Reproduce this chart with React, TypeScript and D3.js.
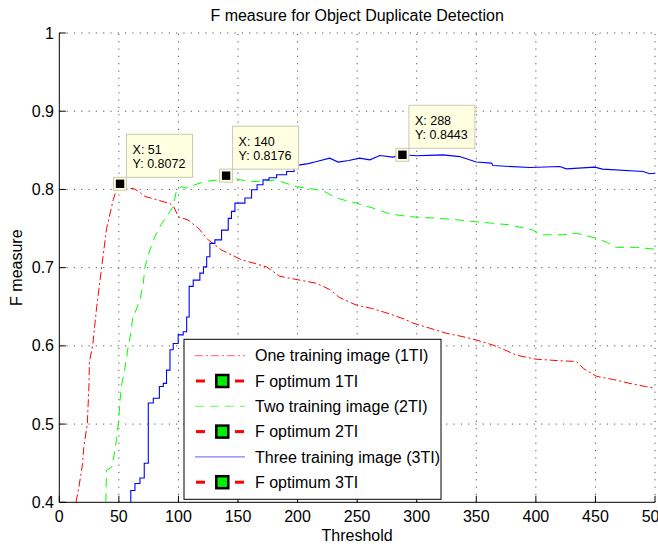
import React from 'react';
import * as d3 from 'd3';

// Threshold / F measure pairs
const oneTI: [number, number][] = [
  [14, 0.4], [16.5, 0.42], [19.6, 0.45], [20.5, 0.47], [23.5, 0.5], [24.9, 0.55], [25.3, 0.58],
  [28, 0.6], [31.4, 0.65], [35.5, 0.7], [39.7, 0.75], [45.3, 0.787], [48, 0.8], [51, 0.8072],
  [55, 0.8], [62, 0.8016], [67, 0.797], [72, 0.791], [80, 0.7876], [88, 0.784], [93, 0.782],
  [96, 0.778], [100, 0.765], [108, 0.761], [117, 0.75], [125, 0.7355], [136, 0.7227], [145, 0.716],
  [153, 0.71], [165, 0.705], [174, 0.701], [185, 0.689], [202, 0.684], [216, 0.68], [227, 0.672],
  [235, 0.662], [249.5, 0.652], [262, 0.648], [275, 0.642], [290, 0.634], [297, 0.629],
  [311, 0.6226], [325, 0.616], [338, 0.612], [350, 0.6076], [364, 0.601], [375, 0.594],
  [384, 0.588], [400, 0.583], [420, 0.581], [434, 0.58], [440, 0.571], [451, 0.561],
  [465, 0.557], [479, 0.552], [492, 0.548], [500, 0.5458],
];

const twoTI: [number, number][] = [
  [39, 0.4], [39.7, 0.441], [44, 0.445], [45.9, 0.46], [48, 0.48], [49.5, 0.5], [51, 0.53],
  [52.3, 0.55], [55, 0.57], [57.9, 0.6], [60, 0.616], [62, 0.64], [63.5, 0.642], [67.7, 0.659],
  [70.5, 0.68], [71.9, 0.701], [76, 0.7227], [80.3, 0.74], [85.3, 0.7547], [90, 0.765],
  [95.6, 0.778], [98.5, 0.7995], [102.7, 0.8037], [106.4, 0.8016], [113.8, 0.806], [122.2, 0.81],
  [133.4, 0.8122], [140, 0.8176], [146, 0.8144], [153, 0.812], [162.8, 0.81], [172, 0.811],
  [182.4, 0.8122], [190, 0.808], [199, 0.8037], [207.5, 0.8016], [215, 0.8], [223, 0.797],
  [232.7, 0.789], [240, 0.786], [249.5, 0.7824], [263.5, 0.776], [277.4, 0.7688], [290, 0.766],
  [299.8, 0.7645], [319.4, 0.763], [335, 0.761], [347.3, 0.759], [362, 0.757], [378, 0.7547],
  [397.7, 0.748], [403, 0.742], [422.8, 0.742], [434, 0.744], [450.8, 0.7377], [460, 0.732],
  [467.6, 0.726], [484.4, 0.726], [500, 0.7236],
];

// rising part of the 3TI curve is a staircase
const threeTIRise: [number, number][] = [
  [60, 0.39], [60, 0.415], [63.5, 0.424], [67.7, 0.431], [71.3, 0.45], [74.7, 0.527],
  [78.9, 0.533], [84, 0.548], [87.3, 0.552], [90, 0.569], [92.9, 0.595], [95.6, 0.603],
  [99.8, 0.614], [104, 0.618], [106.9, 0.637], [109, 0.676], [112.4, 0.684], [118, 0.693],
  [121, 0.701], [123.7, 0.714], [126.4, 0.731], [130.6, 0.7355], [136.2, 0.748], [141.8, 0.763],
  [144.5, 0.772], [147.4, 0.7825], [155.8, 0.789], [161.4, 0.7995], [166, 0.806], [171, 0.8122],
  [176, 0.815], [182.4, 0.8187], [190.8, 0.823], [197, 0.827],
];

const threeTITail: [number, number][] = [
  [197, 0.827], [202, 0.8314], [209, 0.833], [216, 0.8357], [227, 0.84], [234, 0.835],
  [243, 0.837], [252, 0.84], [260.7, 0.8378], [269, 0.8433], [280, 0.8413], [288, 0.8443],
  [299.8, 0.843], [310, 0.8435], [322, 0.8442], [336, 0.842], [350, 0.835], [362.8, 0.8336],
  [364, 0.8306], [395, 0.828], [420, 0.8293], [425.6, 0.8263], [449.4, 0.8285], [456, 0.826],
  [490, 0.823], [495.6, 0.82], [500, 0.8206],
];

const optima: [number, number][] = [[51, 0.8072], [140, 0.8176], [288, 0.8443]];

const xTicks = [0, 50, 100, 150, 200, 250, 300, 350, 400, 450, 500];
const yTicks = [0.4, 0.5, 0.6, 0.7, 0.8, 0.9, 1];

const legendLabels = [
  'One training image (1TI)',
  'F optimum 1TI',
  'Two training image (2TI)',
  'F optimum 2TI',
  'Three training image (3TI)',
  'F optimum 3TI',
];

const W = 658;
const H = 546;
const FONT = '"Liberation Sans", Arial, Helvetica, sans-serif';

export default function App() {
  const left = 59.3, right = 655, top = 33, bottom = 502.3;
  const x = d3.scaleLinear().domain([0, 500]).range([left, right]);
  const y = d3.scaleLinear().domain([0.4, 1]).range([bottom, top]);

  const line = d3.line<[number, number]>().x(d => x(d[0])).y(d => y(d[1]));
  const stepLine = d3
    .line<[number, number]>()
    .x(d => x(d[0]))
    .y(d => y(d[1]))
    .curve(d3.curveStepAfter);

  const gridStyle = {stroke: '#555', strokeWidth: 1, strokeDasharray: '1.2,6.1'};

  const legX = 184, legY = 339.3, legW = 257, legH = 160, rowH = 25.3;

  return (
    <svg
      width={W}
      height={H}
      style={{position: 'absolute', left: 0, top: 0, background: '#fff'}}
      fontFamily={FONT}
    >
      <defs>
        <clipPath id="plotArea">
          <rect x={left} y={top} width={right - left} height={bottom - top} />
        </clipPath>
      </defs>
      <rect width={W} height={H} fill="#fff" />

      {/* grid */}
      {xTicks.filter(t => t > 0).map(t => (
        <line key={'gx' + t} x1={x(t)} x2={x(t)} y1={bottom} y2={top} style={gridStyle} />
      ))}
      {yTicks.filter(t => t > 0.4).map(t => (
        <line key={'gy' + t} x1={left} x2={right} y1={y(t)} y2={y(t)} style={gridStyle} />
      ))}

      {/* axes */}
      <line x1={left} x2={left} y1={top} y2={bottom} stroke="#000" />
      <line x1={left} x2={right} y1={bottom} y2={bottom} stroke="#000" />
      {xTicks.map(t => (
        <g key={'xt' + t}>
          <line x1={x(t)} x2={x(t)} y1={bottom} y2={bottom - 6.5} stroke="#000" />
          <text x={x(t)} y={522} textAnchor="middle" fontSize={16}>
            {t}
          </text>
        </g>
      ))}
      {yTicks.map(t => (
        <g key={'yt' + t}>
          <line x1={left} x2={left + 6.5} y1={y(t)} y2={y(t)} stroke="#000" />
          <text x={54} y={y(t) + 5.5} textAnchor="end" fontSize={16}>
            {d3.format('~g')(t)}
          </text>
        </g>
      ))}

      <text x={(left + right) / 2} y={20.5} textAnchor="middle" fontSize={16}>
        F measure for Object Duplicate Detection
      </text>
      <text x={(left + right) / 2} y={541} textAnchor="middle" fontSize={16}>
        Threshold
      </text>
      <text
        transform={`translate(21.5,${(top + bottom) / 2}) rotate(-90)`}
        textAnchor="middle"
        fontSize={16}
      >
        F measure
      </text>

      {/* curves */}
      <g clipPath="url(#plotArea)" fill="none">
        <path d={line(oneTI) || ''} stroke="#ff0000" strokeWidth={1} strokeDasharray="8,3,2,3" />
        <path d={line(twoTI) || ''} stroke="#00ff00" strokeWidth={1} strokeDasharray="9,6" />
        <path d={stepLine(threeTIRise) || ''} stroke="#0000ff" strokeWidth={1.1} />
        <path d={line(threeTITail) || ''} stroke="#0000ff" strokeWidth={1.1} />
      </g>

      {/* data tips */}
      {optima.map(([tx, ty]) => {
        const px = x(tx), py = y(ty);
        const bx = px + 6.5, by = py - 6.5 - 43;
        return (
          <g key={'tip' + tx}>
            <rect x={bx} y={by} width={66} height={43} fill="#ffffe1" stroke="#c8c8b4" />
            <text x={bx + 6} y={by + 19.5} fontSize={12.5}>
              {'X: ' + tx}
            </text>
            <text x={bx + 6} y={by + 34} fontSize={12.5}>
              {'Y: ' + ty}
            </text>
            <rect x={px - 6.5} y={py - 6.5} width={13} height={13} fill="#ffffe1" stroke="#c8c8b4" />
            <rect x={px - 4.2} y={py - 4.2} width={8.4} height={8.4} fill="#000" />
          </g>
        );
      })}

      {/* legend */}
      <rect x={legX} y={legY} width={legW} height={legH} fill="#fff" stroke="#000" />
      {legendLabels.map((label, i) => {
        const cy = legY + 16.4 + i * rowH;
        const lx1 = legX + 11, lx2 = legX + 61;
        let sample: React.ReactNode;
        if (i === 0) {
          sample = (
            <line x1={lx1} x2={lx2} y1={cy} y2={cy} stroke="#ff6060" strokeDasharray="8,3,2,3" />
          );
        } else if (i === 2) {
          sample = <line x1={lx1} x2={lx2} y1={cy} y2={cy} stroke="#60ff60" strokeDasharray="9,6" />;
        } else if (i === 4) {
          sample = <line x1={lx1} x2={lx2} y1={cy} y2={cy} stroke="#6060ff" />;
        } else {
          const mx = legX + 38.3;
          sample = (
            <g>
              <line x1={lx1 + 1} x2={lx1 + 10} y1={cy} y2={cy} stroke="#ff0000" strokeWidth={3} />
              <line x1={lx2 - 10} x2={lx2 - 1} y1={cy} y2={cy} stroke="#ff0000" strokeWidth={3} />
              <rect x={mx - 6} y={cy - 6} width={12} height={12} fill="#00ee00" stroke="#000" strokeWidth={2.5} />
            </g>
          );
        }
        return (
          <g key={'leg' + i}>
            {sample}
            <text x={legX + 71} y={cy + 5.7} fontSize={16}>
              {label}
            </text>
          </g>
        );
      })}
    </svg>
  );
}
